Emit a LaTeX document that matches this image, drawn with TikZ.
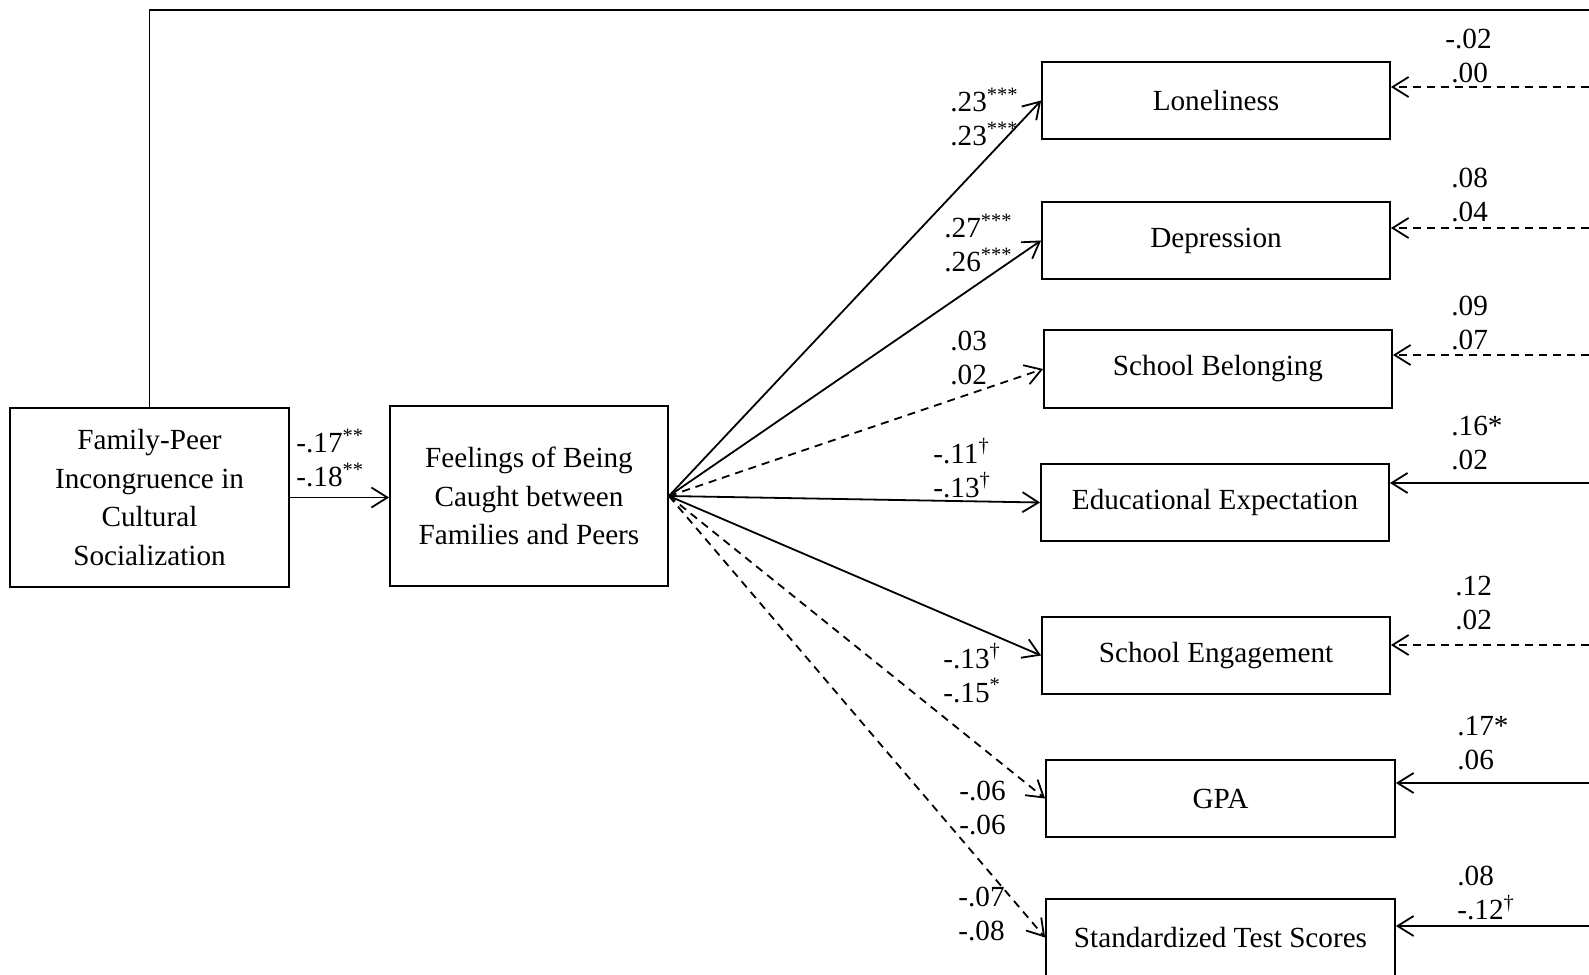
\documentclass[tikz,border=0pt]{standalone}
\usepackage{fontspec}
\setmainfont{Liberation Serif}
\usetikzlibrary{arrows.meta}

\tikzset{
  varbox/.style={draw, line width=0.9pt, inner sep=0pt, align=center,
    minimum width=174pt, minimum height=38.5pt,
    font=\fontsize{14.6}{19.4}\selectfont},
  coef/.style={anchor=west, align=left, inner sep=0pt,
    font=\fontsize{14.6}{17}\selectfont},
  sig/.style={line width=0.9pt, -{Straight Barb[length=8pt,width=10pt]}},
  ns/.style={sig, dash pattern=on 4pt off 3pt},
}

\begin{document}
\begin{tikzpicture}[x=0.5pt,y=-0.5pt]
    \useasboundingbox (0,0) rectangle (1589,974);
    \clip (0,0) rectangle (1589,974);
    % predictor and mediator
    \node[varbox, minimum width=139.5pt, minimum height=89.5pt] (fpi) at (149.5,497.5)
        {Family-Peer\\Incongruence in\\Cultural\\Socialization};
    \node[varbox, minimum width=139pt, minimum height=90pt] (caught) at (529,496)
        {Feelings of Being\\Caught between\\Families and Peers};
    % outcomes
    \node[varbox] (lone)   at (1216,100.5) {Loneliness};
    \node[varbox] (depr)   at (1216,240.5) {Depression};
    \node[varbox, minimum height=39pt] (belong) at (1218,369) {School Belonging};
    \node[varbox] (eduexp) at (1215,502.5) {Educational Expectation};
    \node[varbox] (engage) at (1216,655.5) {School Engagement};
    \node[varbox, minimum width=174.5pt] (gpa)    at (1220.5,798.5) {GPA};
    \node[varbox, minimum width=174.5pt] (testsc) at (1220.5,937.5) {Standardized Test Scores};
    % top line leaving the picture
    \coordinate (topr) at (1589,10);
    \draw[line width=0.9pt] (fpi.north) |- (topr);
    % a path
    \draw[sig] (fpi.east) -- (fpi.east -| caught.west);
    % b paths
    \foreach \v/\s in {lone/sig,depr/sig,belong/ns,eduexp/sig,engage/sig,gpa/ns,testsc/ns}{%
        \draw[\s] (caught.east) -- (\v.west);
    }
    % covariate arrows from the right
    \foreach \v/\y/\s in {lone/87/ns,depr/228/ns,belong/355/ns,eduexp/483/sig,engage/645/ns,gpa/783/sig,testsc/926/sig}{%
        \coordinate (cv-\v) at (1589,\y);
        \draw[\s] (cv-\v) -- (cv-\v -| \v.east);
    }
    % coefficients
    \node[coef] (c-a) at (296,458) {-.17\textsuperscript{**}\\-.18\textsuperscript{**}};
    \node[coef] (c-lone)   at (950,117) {.23\textsuperscript{***}\\.23\textsuperscript{***}};
    \node[coef] (c-depr)   at (944,243) {.27\textsuperscript{***}\\.26\textsuperscript{***}};
    \node[coef] (c-belong) at (950,358) {.03\\.02};
    \node[coef] (c-eduexp) at (933,468) {-.11\textsuperscript{\textdagger}\\-.13\textsuperscript{\textdagger}};
    \node[coef] (c-engage) at (943,673) {-.13\textsuperscript{\textdagger}\\-.15\textsuperscript{*}};
    \node[coef] (c-gpa)    at (959,808) {-.06\\-.06};
    \node[coef] (c-testsc) at (958,914) {-.07\\-.08};
    \node[coef] (d-lone)   at (1445,56)  {-.02\\\hspace{3pt}.00};
    \node[coef] (d-depr)   at (1451,195) {.08\\.04};
    \node[coef] (d-belong) at (1451,323) {.09\\.07};
    \node[coef] (d-eduexp) at (1451,443) {.16*\\.02};
    \node[coef] (d-engage) at (1455,603) {.12\\.02};
    \node[coef] (d-gpa)    at (1457,743) {.17*\\.06};
    \node[coef] (d-testsc) at (1457,893) {.08\\-.12\textsuperscript{\textdagger}};
\end{tikzpicture}
\end{document}
